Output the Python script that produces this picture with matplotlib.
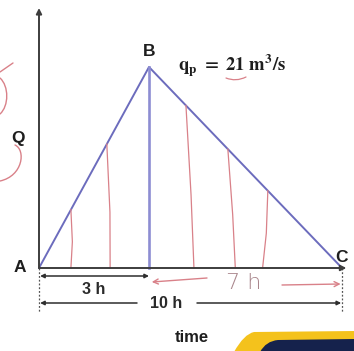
import numpy as np
import matplotlib
matplotlib.use("Agg")
import matplotlib.pyplot as plt
import matplotlib.transforms as mtransforms
from matplotlib.path import Path
from matplotlib.patches import PathPatch

# Triangular unit hydrograph: rises to the peak in 3 h, recedes over 7 h
time_h = [0, 3, 10]
flow_q = [0, 21, 0]
peak_time = 3
base_time = 10
peak_flow = 21
point_names = ["A", "B", "C"]

# hand-drawn strips under the hydrograph: (time at base, time at top)
strips = [(0.87, 0.87), (1.94, 1.85), (4.63, 4.34), (6.13, 5.86), (7.12, 7.31)]

W, H = 354, 351
X0 = 39  # left edge of the plotting area in pixels
fig = plt.figure(figsize=(W / 100, H / 100), dpi=100)
fig.patch.set_facecolor("white")
px = mtransforms.Affine2D().scale(1 / W, -1 / H).translate(0, 1) + fig.transFigure

ax = fig.add_axes([X0 / W, (H - 268) / H, 306 / W, 260 / H])
ax.set_facecolor("none")

# piecewise time axis: rising limb and recession limb drawn at their own widths
k1 = 110 / 3.0
k2 = 193 / 7.0


def fwd(t):
    t = np.asarray(t, dtype=float)
    return np.where(t <= peak_time, t * k1, peak_time * k1 + (t - peak_time) * k2)


def inv(u):
    u = np.asarray(u, dtype=float)
    return np.where(u <= peak_time * k1, u / k1, peak_time + (u - peak_time * k1) / k2)


def tpx(p):
    """time value sitting at horizontal pixel p"""
    return float(inv(p - X0))


ax.set_xscale("function", functions=(fwd, inv))
xmax = base_time + 3 / k2
ymax = peak_flow * 260 / 201
ax.set_xlim(0, xmax)
ax.set_ylim(0, ymax)
ax.axis("off")

axis_col = "#3d3d3d"
ax.annotate("", xy=(0, ymax), xytext=(0, 0), annotation_clip=False,
            arrowprops=dict(arrowstyle="-|>", color=axis_col, lw=1.4, mutation_scale=8,
                            shrinkA=0, shrinkB=0))
ax.annotate("", xy=(xmax + 0.05, 0), xytext=(0, 0), annotation_clip=False,
            arrowprops=dict(arrowstyle="-|>", color=axis_col, lw=1.4, mutation_scale=8,
                            shrinkA=0, shrinkB=0))

# hydrograph
tri_col = "#6c6cbd"
ax.plot(time_h, flow_q, color=tri_col, lw=1.4, solid_capstyle="round", clip_on=False)
ax.plot([peak_time, peak_time], [0, peak_flow], color="#8d8dd2", lw=1.9, clip_on=False)


def hydro(t):
    return np.interp(t, time_h, flow_q)


red = "#d98189"
for tb, tt in strips:
    top = hydro(tt)
    tm = (tb + tt) / 2 + 0.04
    ax.plot([tb, tm, tt], [0, top * 0.45, top], color=red, lw=0.9, clip_on=False)

# dimension lines below the time axis
py = 201 / peak_flow  # pixels per unit of flow


def yq(pix):
    return -(pix - 268) / py


dim_col = "#2e2e2e"
dim_font = dict(fontsize=11.5, fontweight="bold", family="Liberation Sans", color="#2a2a2a",
                ha="center", va="center")
ax.annotate("", xy=(0.03, yq(276)), xytext=(peak_time, yq(276)), annotation_clip=False,
            arrowprops=dict(arrowstyle="<|-|>", color=dim_col, lw=1.1, mutation_scale=6,
                            shrinkA=0, shrinkB=0))
ax.text(peak_time / 2, yq(289), "3 h", **dim_font)

ax.annotate("", xy=(0.03, yq(303)), xytext=(tpx(137), yq(303)), annotation_clip=False,
            arrowprops=dict(arrowstyle="-|>", color=dim_col, lw=1.1, mutation_scale=6,
                            shrinkA=0, shrinkB=0))
ax.annotate("", xy=(base_time - 0.03, yq(303)), xytext=(tpx(197), yq(303)),
            annotation_clip=False,
            arrowprops=dict(arrowstyle="-|>", color=dim_col, lw=1.1, mutation_scale=6,
                            shrinkA=0, shrinkB=0))
ax.text(tpx(166), yq(303), "10 h", **dim_font)

for tx in (0, base_time):
    ax.plot([tx, tx], [0, yq(313)], color="#555555", lw=0.9, ls=(0, (1.5, 1.5)),
            clip_on=False)

# handwritten 7 h span of the recession limb
ax.annotate("", xy=(peak_time + 0.1, yq(282)), xytext=(tpx(207), yq(278)),
            annotation_clip=False,
            arrowprops=dict(arrowstyle="->", color=red, lw=1.0, mutation_scale=9,
                            shrinkA=0, shrinkB=0))
ax.annotate("", xy=(base_time - 0.05, yq(284)), xytext=(tpx(282), yq(285)),
            annotation_clip=False,
            arrowprops=dict(arrowstyle="->", color=red, lw=1.0, mutation_scale=9,
                            shrinkA=0, shrinkB=0))
ax.text(tpx(244), yq(283), "7 h", ha="center", va="center", fontsize=16,
        family="DejaVu Sans", fontweight="light", color="#a9868c")

# point labels
lab = dict(fontsize=12.5, fontweight="bold", family="Liberation Sans", color="#1e1e1e",
           ha="center", va="center")
fig.text(20, 268, point_names[0], transform=px, **lab)
fig.text(149, 51, point_names[1], transform=px, **lab)
fig.text(341, 257, point_names[2], transform=px, **lab)
fig.text(18, 139, "Q", transform=px, **lab)
fig.text(192, 338, "time", transform=px, fontsize=12, fontweight="bold",
         family="Liberation Sans", color="#1e1e1e", ha="center", va="center")

plt.rcParams["mathtext.fontset"] = "stix"
fig.text(178, 66, r"$\mathbf{q_p\ =\ 21\ m^3/s}$", transform=px, fontsize=13.5,
         color="#1e1e1e", ha="left", va="center")

# pen marks
def stroke(verts, codes, color=red, lw=1.0):
    fig.add_artist(PathPatch(Path(verts, codes), transform=px, fill=False,
                             edgecolor=color, lw=lw, capstyle="round"))


stroke([(13, 63), (0, 72)], [Path.MOVETO, Path.LINETO])
stroke([(0, 78), (9, 86), (9, 106), (0, 114)],
       [Path.MOVETO, Path.CURVE4, Path.CURVE4, Path.CURVE4])
stroke([(15, 145), (26, 150), (23, 176), (0, 181)],
       [Path.MOVETO, Path.CURVE4, Path.CURVE4, Path.CURVE4])
stroke([(226, 78), (236, 82), (246, 77)], [Path.MOVETO, Path.CURVE3, Path.CURVE3], lw=0.9)

# corner banner
yellow = Path([(234, 352), (244, 334), (254, 332), (355, 331), (355, 352), (234, 352)],
              [Path.MOVETO, Path.CURVE3, Path.CURVE3, Path.LINETO, Path.LINETO, Path.CLOSEPOLY])
fig.add_artist(PathPatch(yellow, transform=px, facecolor="#f4c21c", edgecolor="none"))
navy = Path([(260, 352), (266, 341), (278, 340), (355, 339), (355, 352), (260, 352)],
            [Path.MOVETO, Path.CURVE3, Path.CURVE3, Path.LINETO, Path.LINETO, Path.CLOSEPOLY])
fig.add_artist(PathPatch(navy, transform=px, facecolor="#15224c", edgecolor="none"))

fig.savefig("out.png", dpi=100)
